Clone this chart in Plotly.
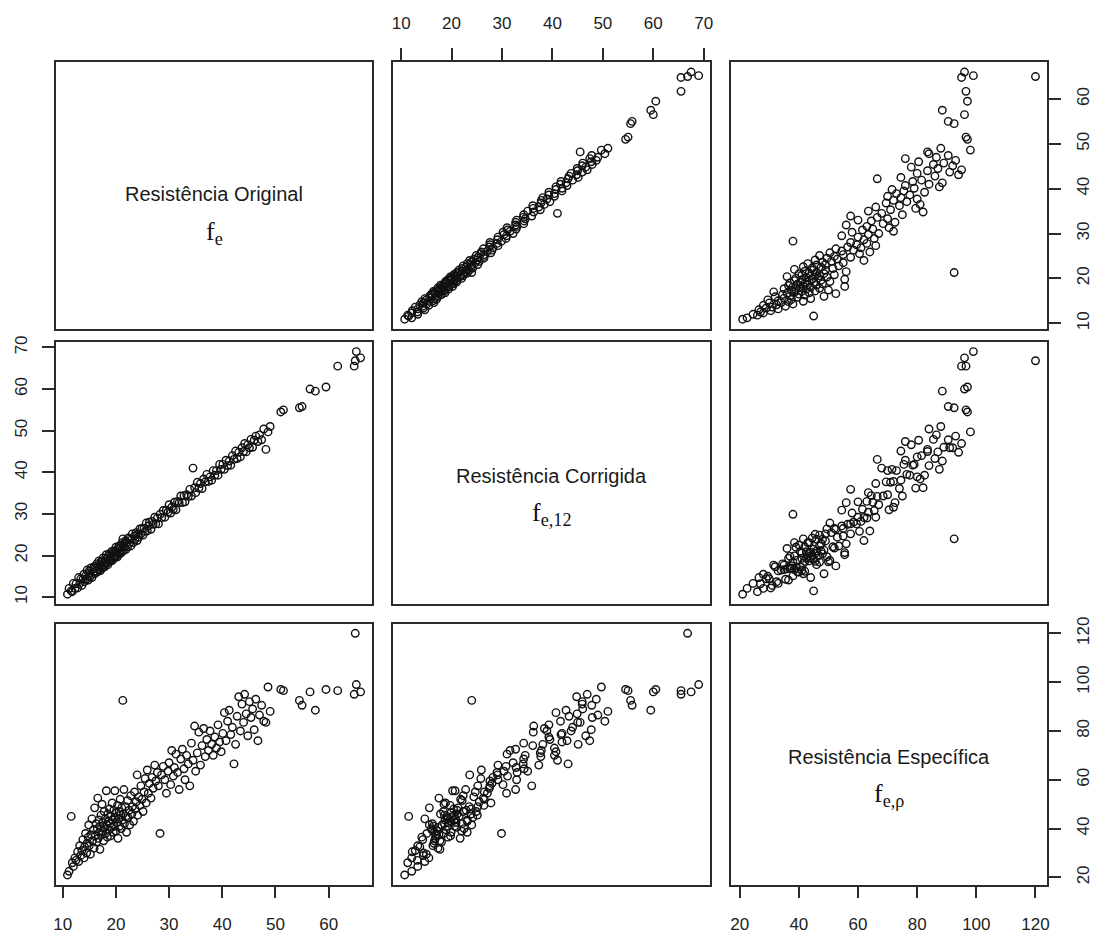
import plotly.graph_objects as go

# Compressive strength measurements (MPa): original, corrected to 12 % moisture, and specific
fe = [
    10.9, 11.2, 11.6, 11.8, 12.0, 12.3, 12.5, 12.8, 13.0, 13.2, 13.4, 13.6, 13.8, 14.0, 14.1,
    14.3, 14.5, 14.6, 14.8, 14.9, 15.0, 15.2, 15.3, 15.5, 15.6, 15.8, 15.9, 16.0, 16.1, 16.3,
    16.4, 16.5, 16.6, 16.7, 16.8, 16.9, 17.0, 17.1, 17.2, 17.3, 17.4, 17.5, 17.6, 17.7, 17.8,
    17.9, 18.0, 18.1, 18.2, 18.3, 18.4, 18.5, 18.6, 18.7, 18.8, 18.9, 19.0, 19.1, 19.2, 19.3,
    19.4, 19.5, 19.6, 19.7, 19.8, 19.9, 20.0, 20.1, 20.2, 20.3, 20.4, 20.5, 20.6, 20.7, 20.8,
    20.9, 21.0, 21.1, 21.2, 21.3, 21.4, 21.5, 21.6, 21.8, 21.9,
    22.0, 22.2, 22.3, 22.5, 22.6, 22.8, 23.0, 23.1, 23.3, 23.5, 23.6, 23.8, 24.0, 24.1, 24.3,
    24.5, 24.7, 24.9, 25.1, 25.3, 25.5, 25.7, 25.9, 26.1, 26.3, 26.6, 26.8, 27.0, 27.3, 27.5,
    27.8, 28.0, 28.3, 28.6, 28.9,
    29.2, 29.5, 29.8, 30.0, 30.3, 30.5, 30.8, 31.0, 31.3, 31.6, 31.9, 32.2, 32.5, 32.8, 33.0,
    33.3, 33.6, 33.9, 34.2, 34.5, 34.8, 35.0, 35.3, 35.6, 35.9, 36.2, 36.5, 36.8, 37.1, 37.4,
    37.7, 38.0,
    38.3, 38.6, 38.9, 39.2, 39.5, 39.8, 40.1, 40.4, 40.7, 41.0, 41.3, 41.6, 41.9, 42.2, 42.5,
    42.8, 43.1, 43.4, 43.7, 44.0, 44.2, 44.5, 44.8, 45.1, 45.4, 45.7, 46.0, 46.3, 46.7, 47.0,
    47.4, 47.8, 48.2, 48.6, 49.0,
    51.0, 51.5, 54.5, 55.0, 56.5, 57.5, 59.5, 61.7, 65.0, 65.2, 66.0, 64.8,
]

fe12 = [
    10.7, 12.1, 11.5, 11.3, 13.3, 12.1, 13.2, 12.2, 14.7, 13.3, 14.4, 12.8, 14.3, 15.5, 13.7,
    15.1, 14.4, 16.5, 14.1, 15.6, 16.3, 15.0, 17.0, 14.7, 16.6, 16.1, 17.3, 15.6, 16.9, 16.2,
    18.0, 16.0, 17.5, 16.8, 18.7, 16.6, 17.7, 16.4, 18.6, 17.5, 18.5, 17.1, 19.4, 17.7, 18.4,
    17.3, 19.3, 18.4, 20.2, 18.1, 19.3, 17.8, 19.9, 18.9, 20.4, 18.6, 19.8, 19.1, 21.0, 18.8,
    20.5, 19.9, 21.1, 19.3, 20.7, 20.0, 22.0, 19.9, 20.9, 19.7, 21.7, 20.8, 22.3, 20.6, 21.8,
    20.5, 22.5, 21.3, 23.1, 24.0, 21.1, 22.8, 22.1, 23.5, 21.5,
    23.1, 22.1, 24.2, 22.9, 24.0, 22.3, 23.9, 25.2, 23.1, 24.7, 23.9, 25.5, 23.6, 25.1, 24.4,
    26.4, 25.2, 26.5, 24.9, 26.5, 25.8, 27.8, 25.9, 27.1, 28.0, 26.3, 28.2, 27.5, 29.2, 27.6,
    29.0, 27.6, 29.9, 29.1, 30.8,
    29.2, 30.9, 30.4, 32.2, 30.2, 31.6, 31.1, 32.8, 31.0, 33.0, 32.7, 34.3, 32.7, 34.4, 32.9,
    34.6, 34.2, 35.9, 34.3, 41.0, 36.3, 35.1, 37.6, 36.2, 37.3, 36.1, 38.4, 37.7, 39.5, 37.8,
    38.9, 38.1,
    40.4, 39.3, 40.4, 39.3, 41.9, 40.7, 41.9, 40.7, 42.9, 41.6, 42.7, 41.7, 44.0, 43.1, 45.1,
    43.3, 44.8, 43.7, 45.9, 45.0, 46.9, 44.9, 46.6, 45.9, 47.9, 46.0, 47.7, 48.7, 47.4, 49.0,
    47.8, 50.4, 45.5, 49.7, 51.0,
    54.5, 55.0, 55.5, 55.8, 60.0, 59.5, 60.5, 65.5, 66.8, 69.0, 67.5, 65.5,
]

fe_rho = [
    21.0, 22.5, 45.0, 26.0, 24.5, 28.0, 27.0, 30.5, 26.5, 33.0, 29.0, 31.0, 35.5, 28.0, 32.5,
    38.0, 30.0, 34.0, 36.5, 41.5, 33.0, 29.5, 37.5, 44.0, 35.0, 39.5, 32.0, 48.5, 37.0, 42.0,
    34.5, 40.0, 52.5, 36.0, 43.5, 38.5, 31.5, 41.0, 45.5, 37.5, 50.0, 39.0, 42.5, 35.0, 47.0,
    40.5, 44.0, 38.0, 55.5, 41.5, 36.5, 46.0, 43.0, 39.5, 48.0, 42.0, 37.0, 45.0, 40.5, 50.5,
    43.5, 38.5, 47.5, 41.0, 55.5, 44.5, 39.0, 46.5, 42.5, 49.5, 36.0, 44.0, 47.0, 41.0, 52.0,
    45.5, 40.0, 48.5, 43.5, 92.5, 46.0, 56.0, 42.0, 49.0, 45.0,
    38.5, 51.5, 44.5, 47.5, 41.5, 53.5, 46.0, 49.0, 43.0, 55.0, 48.0, 51.0, 62.0, 45.5, 53.0,
    49.5, 57.5, 52.0, 47.0, 55.0, 60.5, 50.5, 64.0, 54.5, 58.5, 52.5, 61.0, 56.5, 66.0, 59.5,
    63.0, 57.5, 38.0, 62.0, 65.5,
    60.0, 54.5, 63.5, 67.0, 58.0, 72.0, 61.5, 65.0, 70.5, 63.0, 56.0, 68.5, 72.5, 64.5, 60.0,
    70.0, 66.5, 57.5, 75.0, 68.0, 82.0, 63.5, 71.0, 79.5, 66.0, 74.0, 81.0, 69.5, 76.5, 72.0,
    80.0, 74.5,
    70.0, 77.5, 73.0, 82.5, 75.5, 71.5, 79.0, 87.5, 76.0, 84.0, 88.5, 78.5, 81.5, 66.5, 74.5,
    86.0, 94.0, 80.0, 91.0, 83.5, 95.0, 87.0, 78.0, 92.0, 85.5, 89.0, 80.5, 93.0, 76.0, 86.5,
    90.5, 84.0, 83.5, 98.0, 88.0,
    97.0, 96.5, 92.5, 90.5, 96.0, 88.5, 97.0, 96.5, 120.0, 99.0, 96.0, 95.0,
]

variables = [fe, fe12, fe_rho]
tick_values = [
    [10, 20, 30, 40, 50, 60],
    [10, 20, 30, 40, 50, 60, 70],
    [20, 40, 60, 80, 100, 120],
]
var_titles = ["Resistência Original", "Resistência Corrigida", "Resistência Específica"]
var_symbols = ["f<sub>e</sub>", "f<sub>e,12</sub>", "f<sub>e,ρ</sub>"]

W, H = 1093, 934
col_px = [(54, 372), (392.7, 711.7), (732.3, 1050)]
row_px = [(56, 327), (340, 606), (626, 891)]

LINE = "#2b2b2b"
TICK_FONT = dict(family="Liberation Sans, Arial, sans-serif", size=17, color="#222")


def padded_range(v):
    lo, hi = min(v), max(v)
    span = hi - lo
    return [lo - 0.04 * span, hi + 0.04 * span]


# which outer axes carry tick marks and labels (alternating, as in a scatterplot matrix)
x_tick_side = {(0, 1): "top", (2, 0): "bottom", (2, 2): "bottom"}
y_tick_side = {(0, 2): "right", (1, 0): "left", (2, 2): "right"}
x_standoff = {"top": 13, "bottom": 11}

fig = go.Figure()
layout = {}

for i in range(3):
    for j in range(3):
        k = i * 3 + j + 1
        xname = "xaxis" if k == 1 else f"xaxis{k}"
        yname = "yaxis" if k == 1 else f"yaxis{k}"
        xref = "x" if k == 1 else f"x{k}"
        yref = "y" if k == 1 else f"y{k}"

        x0, x1 = col_px[j]
        y0, y1 = row_px[i]

        xa = dict(
            domain=[x0 / W, x1 / W],
            range=padded_range(variables[j]),
            anchor=yref,
            showline=True, mirror=True, linecolor=LINE, linewidth=1.6,
            showgrid=False, zeroline=False,
            tickfont=TICK_FONT,
        )
        ya = dict(
            domain=[1 - y1 / H, 1 - y0 / H],
            range=padded_range(variables[i]),
            anchor=xref,
            showline=True, mirror=True, linecolor=LINE, linewidth=1.6,
            showgrid=False, zeroline=False,
            tickfont=TICK_FONT,
        )

        if (i, j) in x_tick_side:
            side = x_tick_side[(i, j)]
            xa.update(side=side, tickmode="array", tickvals=tick_values[j],
                      ticks="outside", ticklen=12, tickwidth=1.6, tickcolor=LINE,
                      showticklabels=True, ticklabelstandoff=x_standoff[side])
        else:
            xa.update(ticks="", showticklabels=False)

        if (i, j) in y_tick_side:
            ya.update(side=y_tick_side[(i, j)], tickmode="array", tickvals=tick_values[i],
                      ticks="outside", ticklen=12, tickwidth=1.6, tickcolor=LINE,
                      showticklabels=True, tickangle=-90, ticklabelstandoff=8)
        else:
            ya.update(ticks="", showticklabels=False)

        layout[xname] = xa
        layout[yname] = ya

        if i != j:
            fig.add_trace(go.Scatter(
                x=variables[j], y=variables[i],
                mode="markers",
                marker=dict(symbol="circle-open", size=7.5, color="#111",
                            line=dict(width=1.4, color="#111")),
                xaxis=xref, yaxis=yref,
                showlegend=False, hoverinfo="skip",
            ))
        else:
            # diagonal panel: empty frame that only carries the variable name
            fig.add_trace(go.Scatter(
                x=[None], y=[None], mode="markers",
                xaxis=xref, yaxis=yref,
                showlegend=False, hoverinfo="skip",
            ))

annotations = []
title_y = [190, 476, 761]
symbol_y = [229, 515, 800]
for d in range(3):
    cx = (col_px[d][0] + col_px[d][1]) / 2 / W
    annotations.append(dict(
        text=var_titles[d], x=cx, y=1 - title_y[d] / H, xref="paper", yref="paper",
        showarrow=False, xanchor="center", yanchor="middle",
        font=dict(family="Liberation Sans, Arial, sans-serif", size=20, color="#1a1a1a"),
    ))
    annotations.append(dict(
        text=var_symbols[d], x=cx, y=1 - symbol_y[d] / H, xref="paper", yref="paper",
        showarrow=False, xanchor="center", yanchor="middle",
        font=dict(family="Liberation Serif, Times New Roman, serif", size=26, color="#111"),
    ))

fig.update_layout(
    width=W, height=H,
    margin=dict(l=0, r=0, t=0, b=0),
    paper_bgcolor="white", plot_bgcolor="white",
    annotations=annotations,
    **layout,
)

fig.write_html("out.html")
